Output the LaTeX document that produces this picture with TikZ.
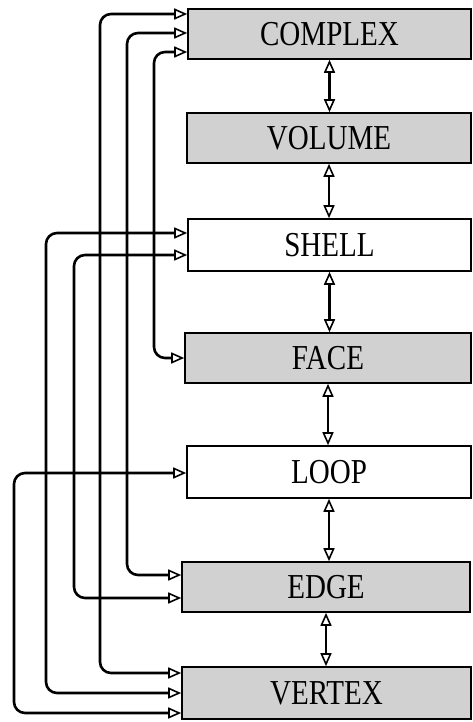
\documentclass[tikz,border=0pt]{standalone}
\usepackage{fontspec}
\setmainfont{Liberation Serif}
\usepackage{graphicx}
\usetikzlibrary{arrows.meta}
\newcommand{\boxlabel}[1]{\scalebox{0.83}[1]{#1}}
\begin{document}
\begin{tikzpicture}[x=1pt,y=-1pt,
  ent/.style={draw, line width=1.6pt, inner sep=0pt, minimum height=50pt,
    font=\fontsize{35}{35}\selectfont},
  shaded/.style={ent, fill=black!18},
  plain/.style={ent, fill=white},
  tip/.style={Triangle[open, length=13pt, width=11pt, line width=1.6pt]},
  link/.style={line width=2.6pt, rounded corners=11pt, {Triangle[open, length=13pt, width=11pt, line width=1.6pt]}-{Triangle[open, length=13pt, width=11pt, line width=1.6pt]}},
  dbl/.style={line width=2.6pt, {Triangle[open, length=13pt, width=11pt, line width=1.6pt]}-{Triangle[open, length=13pt, width=11pt, line width=1.6pt]}}
]
\useasboundingbox (0,0) rectangle (473,722);

\node[shaded, minimum width=283pt] (complex) at (329.5,34) {\boxlabel{COMPLEX}};
\node[shaded, minimum width=284pt] (volume)  at (329,138)  {\boxlabel{VOLUME}};
\node[plain,  minimum width=283pt, minimum height=52pt] (shell) at (329.5,245) {\boxlabel{SHELL}};
\node[shaded, minimum width=286pt] (face)    at (328,358)  {\boxlabel{FACE}};
\node[plain,  minimum width=284pt, minimum height=52pt] (loop) at (329,472) {\boxlabel{LOOP}};
\node[shaded, minimum width=288pt] (edge)    at (326,587)  {\boxlabel{EDGE}};
\node[shaded, minimum width=289pt, minimum height=52pt] (vertex) at (326.5,693) {\boxlabel{VERTEX}};

% lanes
\coordinate (l1) at (14,0);
\coordinate (l2) at (46,0);
\coordinate (l3) at (74,0);
\coordinate (l4) at (100,0);
\coordinate (l5) at (127,0);
\coordinate (l6) at (154,0);

% vertical double arrows
\draw[dbl] (complex.south) -- (complex.south |- volume.north);
\draw[dbl] (volume.south) -- (volume.south |- shell.north);
\draw[dbl] (shell.south) -- (shell.south |- face.north);
\draw[dbl] (face.south) -- (face.south |- loop.north);
\draw[dbl] (loop.south) -- (loop.south |- edge.north);
\draw[dbl] (edge.south) -- (edge.south |- vertex.north);

% left links
\coordinate (c1) at ([yshift=20pt]complex.west);
\coordinate (c2) at ([yshift=1pt]complex.west);
\coordinate (c3) at ([yshift=-18pt]complex.west);
\coordinate (s1) at ([yshift=12pt]shell.west);
\coordinate (s2) at ([yshift=-10pt]shell.west);
\coordinate (f1) at (face.west);
\coordinate (o1) at ([yshift=-1pt]loop.west);
\coordinate (e1) at ([yshift=12pt]edge.west);
\coordinate (e2) at ([yshift=-11pt]edge.west);
\coordinate (v1) at ([yshift=20pt]vertex.west);
\coordinate (v2) at ([yshift=0pt]vertex.west);
\coordinate (v3) at ([yshift=-20pt]vertex.west);

\draw[link] (c1) -| (l4 |- v1) -- (v1);
\draw[link] (c2) -| (l5 |- e1) -- (e1);
\draw[link] (c3) -| (l6 |- f1) -- (f1);
\draw[link] (s1) -| (l2 |- v2) -- (v2);
\draw[link] (s2) -| (l3 |- e2) -- (e2);
\draw[link] (o1) -| (l1 |- v3) -- (v3);
\end{tikzpicture}
\end{document}
